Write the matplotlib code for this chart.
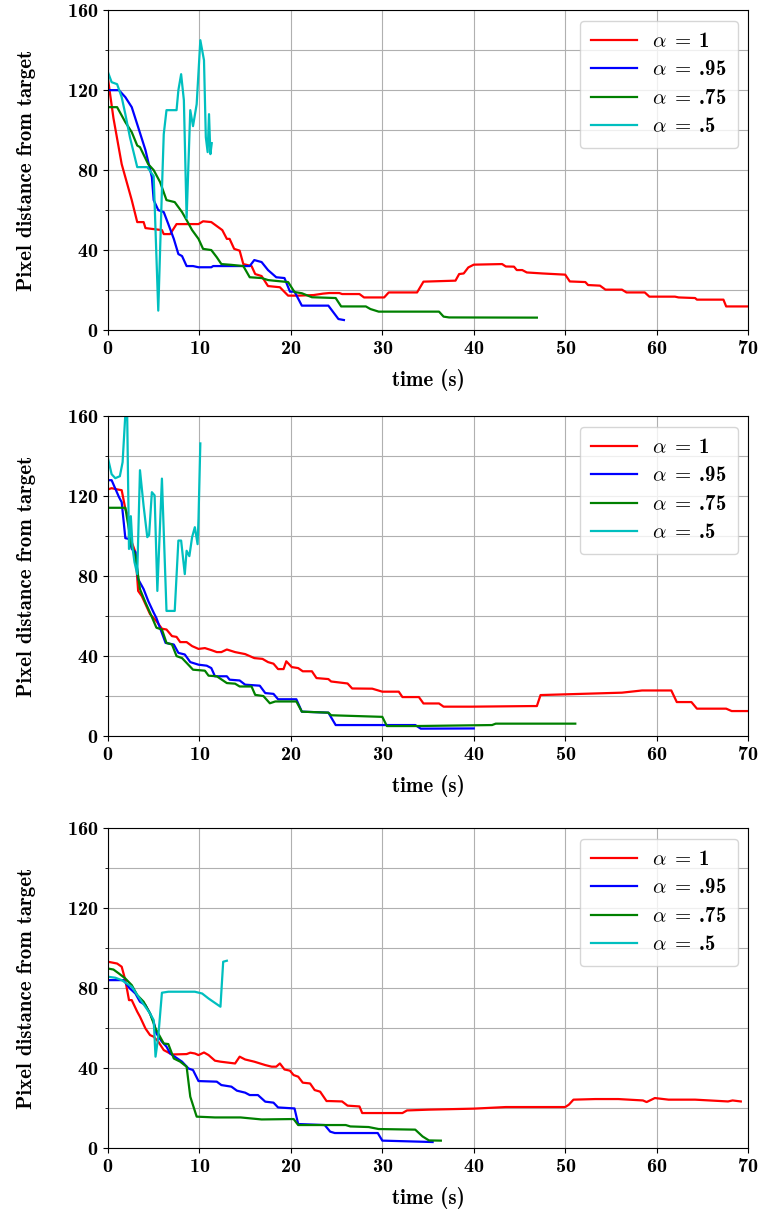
import matplotlib
matplotlib.use("Agg")
import matplotlib.pyplot as plt
from matplotlib.ticker import MultipleLocator

plt.rcParams['font.family'] = ['cmb10', 'DejaVu Serif']
plt.rcParams['mathtext.fontset'] = 'cm'
plt.rcParams['axes.formatter.use_mathtext'] = True

labels = [r'$\alpha\;=\;$1', r'$\alpha\;=\;$.95', r'$\alpha\;=\;$.75', r'$\alpha\;=\;$.5']
colors = ['r', 'b', 'g', 'c']

# ---- panel 1 ----
t1_a1 = [0, 0.6, 1.5, 2.6, 3.2, 3.9, 4.1, 4.8, 5.9, 6.1, 6.8, 7.5, 9.9, 10.4, 11.3, 11.9, 12.5, 13, 13.3, 13.8,
         14.4, 14.8, 15.7, 16.1, 16.8, 17.5, 18.8, 19.7, 20.8, 22.5, 23.5, 24.2, 25.3, 25.6, 27.5, 28, 30.2, 30.7,
         33.8, 34.5, 38, 38.4, 38.9, 39.4, 40, 43.1, 43.5, 44.4, 44.7, 45.3, 45.8, 47.5, 50, 50.5, 52.2, 52.5, 53.8,
         54.4, 56.2, 56.7, 58.7, 59.2, 62, 62.4, 64.2, 64.4, 67.3, 67.6, 70]
v1_a1 = [125.7, 106, 83, 65, 54, 54, 51, 50.6, 50, 48, 48, 53, 53, 54.4, 54, 52, 50, 45.6, 45.6, 40.6,
         39.7, 33, 32, 28, 27, 22, 21.4, 17.2, 17.2, 17.5, 18.2, 18.5, 18.5, 18, 18, 16.3, 16.3, 18.8,
         18.8, 24.2, 24.7, 28, 28.3, 31.3, 32.7, 33, 31.8, 31.7, 30, 30, 28.8, 28.3, 27.7, 24.3, 24, 22.5, 22.2,
         20.2, 20.2, 18.8, 18.8, 16.7, 16.7, 16.3, 16, 15.2, 15.2, 11.8, 11.8]
t1_a95 = [0, 1.2, 1.9, 2.6, 3.3, 4.1, 4.8, 5.0, 5.5, 6.1, 6.6, 7.2, 7.7, 8.1, 8.6, 9.3, 9.9, 11.3, 11.5, 15.5,
          16, 16.8, 17.5, 18.4, 19.3, 19.9, 20.4, 21.2, 24.1, 25.2, 25.8]
v1_a95 = [120, 120, 116.5, 111.5, 101.5, 90, 76.5, 65, 60, 59, 53, 45.6, 38, 37, 32, 32, 31.4, 31.4, 32, 32,
          35, 34, 30, 26.4, 26, 19.2, 19.2, 12.2, 12.2, 5.5, 5]
t1_a75 = [0, 1, 1.9, 2.6, 3.2, 3.5, 4.4, 5, 5.7, 6.4, 7.3, 8.1, 8.6, 9.2, 9.9, 10.4, 11.3, 11.9, 12.4, 13.5,
          14.8, 15.5, 16.8, 17.5, 18.1, 19.7, 20.4, 21.2, 22.3, 24.9, 25.5, 28.2, 28.7, 29.6, 36.2, 36.7, 37.3, 46.9]
v1_a75 = [111.5, 111.5, 104, 99, 92.3, 91.5, 83, 80, 74, 65, 64, 59, 55, 50, 45.6, 40.6, 40, 36.4, 33, 32.6,
          32, 26.4, 26, 25, 24.7, 24, 19, 18.4, 16.4, 16, 11.8, 11.8, 10.5, 9.2, 9.2, 6.7, 6.3, 6.2]
t1_a5 = [0, 0.4, 1, 1.5, 1.9, 2.4, 3.2, 4.3, 5, 5.5, 5.9, 6.1, 6.4, 7.5, 7.7, 8, 8.3, 8.6, 9, 9.3, 9.7, 10.1,
         10.5, 10.7, 10.9, 11.05, 11.2, 11.35]
v1_a5 = [129, 124, 123, 116.5, 108, 96.5, 81.5, 81.5, 77, 9.7, 70, 98, 110, 110, 120, 128, 115, 56, 110, 102, 113, 145,
         135, 96.5, 89, 108, 88, 93.5]

# ---- panel 2 ----
t2_a1 = [0, 0.4, 1, 1.5, 1.9, 2.3, 2.6, 3, 3.3, 3.7, 4.1, 4.6, 5.3, 5.9, 6.4, 7, 7.5, 7.9, 8.6, 9.2, 9.9, 10.6,
         11.3, 11.9, 12.4, 13, 13.9, 15, 16, 16.9, 17.5, 18.1, 18.6, 19.2, 19.5, 20.1, 20.8, 21.3, 22.3, 22.8,
         24.1, 24.4, 26.2, 26.7, 28.9, 30, 31.8, 32.2, 34, 34.5, 36.2, 36.7, 39.8, 46.4, 46.9, 47.3, 56.2, 58.4,
         61.6, 62.2, 63.8, 64.4, 67.6, 68.2, 70]
v2_a1 = [123.4, 124, 123.4, 123, 113.7, 108.7, 97, 92, 72.6, 70, 66, 61, 57.5, 53.7, 53.3, 50, 49.6, 47, 47, 45, 43.6, 44,
         43, 42, 42, 43.3, 42, 41, 39, 38.6, 37, 36.2, 33.5, 33.5, 37.4, 34.5, 34, 32.4, 32.4, 29,
         28.5, 27.3, 26.3, 23.8, 23.7, 22.2, 22.2, 19.5, 19.5, 16.3, 16.3, 14.7, 14.7, 15, 15, 20.5, 21.7, 22.8,
         22.8, 17, 17, 13.7, 13.7, 12.5, 12.5]
t2_a95 = [0, 0.4, 1.2, 1.5, 1.9, 2.3, 2.6, 3, 3.3, 3.9, 4.4, 5, 5.3, 5.7, 6.3, 7.2, 7.7, 8.4, 9, 9.9, 10.8, 11.3,
          11.7, 13, 13.3, 14.4, 15, 16.6, 17.2, 18.1, 18.6, 20.6, 21.2, 24.1, 24.9, 33.6, 34.2, 40]
v2_a95 = [128, 128, 119.6, 117, 99, 98.6, 93.6, 92, 78.5, 73.5, 67.6, 61.7, 59, 54, 46.6, 45.8, 41.6, 40.8, 37, 35.7,
          35.2, 34, 29.9, 29.9, 28.2, 27.8, 25.7, 25.2, 21.5, 21.1, 18.4, 18.4, 12.2, 11.7, 5.5, 5.5, 3.7, 3.8]
t2_a75 = [0, 1.9, 2.6, 3, 3.3, 3.5, 4.1, 4.6, 5.3, 5.9, 6.4, 7, 7.5, 8.1, 8.6, 9.3, 10.6, 11, 11.9, 13, 13.9,
          14.4, 15.7, 16.1, 17, 17.7, 18.3, 20.6, 21.2, 24.1, 24.4, 30, 30.5, 33.6, 42, 42.4, 51.1]
v2_a75 = [114.2, 114.2, 95, 90, 80, 73.5, 66.8, 61.7, 54.2, 53.3, 46.6, 45.8, 40, 39, 36.6, 33.2, 32.7, 30.2, 29.9,
          26.5, 26.2, 24.8, 24.8, 20.6, 20, 16.4, 17.3, 17.3, 12.2, 11.7, 10.4, 9.6, 5, 5, 5.5, 6.2, 6.2]
t2_a5 = [0, 0.4, 0.8, 1.3, 1.6, 1.9, 2.1, 2.3, 2.5, 2.7, 2.9, 3.2, 3.5, 3.9, 4.3, 4.5, 4.8, 5.1, 5.4, 5.9, 6.4,
         7.3, 7.7, 8, 8.4, 8.6, 8.9, 9.2, 9.5, 9.8, 9.9, 10.1]
v2_a5 = [139, 131, 129, 130, 137, 161, 161, 93.6, 110, 93.6, 87, 81, 133, 115, 99.5, 100.6, 122, 120.4, 72.6, 128.8,
         62.6, 62.6, 97.8, 97.8, 81, 92.7, 90, 99.5, 104.5, 96, 108.7, 146.4]

# ---- panel 3 ----
t3_a1 = [0, 1, 1.5, 1.9, 2.3, 2.6, 3.2, 3.5, 4.1, 4.6, 5, 5.5, 6.1, 7, 8.6, 9, 9.5, 9.9, 10.5, 11, 11.7, 12.3,
         13.9, 14.4, 15, 16, 17.2, 17.9, 18.4, 18.8, 19.3, 19.9, 20.3, 20.8, 21.3, 22.1, 22.6, 23.2, 23.9, 24.2,
         25.6, 26.2, 27.5, 27.8, 32.2, 32.7, 35.1, 40, 43.5, 50, 50.4, 50.9, 53.3, 55.8, 58.5, 58.9, 59.8, 61.3,
         64.2, 67.8, 68.3, 69.2]
v3_a1 = [93.2, 92.3, 90.7, 84, 74, 74, 68.2, 65.7, 59.8, 56.5, 55.7, 53.2, 49, 46.8, 47, 47.7, 47.3, 46.5, 47.8, 46.5,
         43.7, 43.2, 42.3, 45.7, 44.3, 43.2, 41.5, 40.7, 40.7, 42.3, 39.3, 38.7, 36.5, 35.7, 32.7, 32.3, 29, 28.2,
         23.5, 23.5, 23.3, 21.2, 20.8, 17.5, 17.5, 18.8, 19.2, 19.7, 20.5, 20.5, 21.7, 24.2, 24.5, 24.5, 23.8, 23,
         25, 24.2, 24.2, 23.3, 23.8, 23.3]
t3_a95 = [0, 1.7, 2.4, 3, 3.5, 4.1, 4.6, 5, 5.3, 5.9, 6.4, 6.8, 7.3, 8.1, 8.8, 9.3, 9.9, 11.9, 12.4, 13.5, 14.1,
          15, 15.5, 16.4, 17.2, 18.1, 18.6, 20.4, 20.8, 23.7, 24.3, 24.8, 29.5, 30, 35.5]
v3_a95 = [84, 84, 79.8, 77.3, 73.2, 71.5, 67.3, 63.2, 57.3, 53.2, 50.7, 47.3, 45.7, 43.2, 39.8, 39, 33.5, 33.2, 31.5,
          30.7, 28.7, 27.7, 26.5, 26.5, 23.2, 22.7, 20.3, 19.8, 12, 11.5, 8.2, 7.5, 7.5, 3.7, 3]
t3_a75 = [0, 0.6, 1.2, 1.9, 2.6, 3.2, 3.9, 4.6, 5.2, 5.5, 6.1, 6.6, 7.2, 7.9, 8.6, 9, 9.7, 11.7, 14.5, 16.8,
          20.3, 20.8, 26, 26.5, 28.5, 29.6, 33.6, 34.4, 35.1, 36.4]
v3_a75 = [89.8, 89.3, 87.3, 84.8, 81.5, 76.5, 73.2, 67.3, 59.8, 57.3, 52.3, 52, 44.8, 43.2, 40.7, 25.7, 15.7, 15.3,
          15.3, 14.3, 14.5, 11.5, 11.5, 10.8, 10.5, 9.5, 9.2, 5.8, 3.8, 3.7]
t3_a5 = [0, 0.8, 1.5, 2.6, 3.7, 4.6, 5, 5.2, 5.5, 5.9, 6.6, 9.5, 10.3, 11, 12.3, 12.6, 13]
v3_a5 = [85.7, 85.2, 84, 80.7, 73.2, 67.3, 64, 45.7, 55.7, 77.7, 78.2, 78.2, 77.3, 74.8, 70.7, 93.2, 93.7]

panels = [
    [(t1_a1, v1_a1), (t1_a95, v1_a95), (t1_a75, v1_a75), (t1_a5, v1_a5)],
    [(t2_a1, v2_a1), (t2_a95, v2_a95), (t2_a75, v2_a75), (t2_a5, v2_a5)],
    [(t3_a1, v3_a1), (t3_a95, v3_a95), (t3_a75, v3_a75), (t3_a5, v3_a5)],
]

fig = plt.figure(figsize=(7.63, 12.16), dpi=100)
bottoms = [0.7286, 0.3947, 0.0559]
for series, b in zip(panels, bottoms):
    ax = fig.add_axes([0.1415, b, 0.839, 0.263])
    for (t, v), c, lab in zip(series, colors, labels):
        ax.plot(t, v, color=c, lw=1.6, label=lab)
    ax.set_xlim(0, 70)
    ax.set_ylim(0, 160)
    ax.yaxis.set_major_locator(MultipleLocator(40))
    ax.yaxis.set_minor_locator(MultipleLocator(20))
    ax.xaxis.set_major_locator(MultipleLocator(10))
    ax.grid(True, which='both', color='#b0b0b0', lw=0.8)
    ax.set_axisbelow(True)
    ax.tick_params(labelsize=14.5)
    ax.set_xlabel('time (s)', fontsize=15, labelpad=8)
    ax.set_ylabel('Pixel distance from target', fontsize=15, labelpad=22)
    ax.legend(loc='upper right', fontsize=15, handlelength=2.2, handletextpad=0.7,
              labelspacing=0.45, borderpad=0.55)

fig.savefig('out.png', dpi=100)
